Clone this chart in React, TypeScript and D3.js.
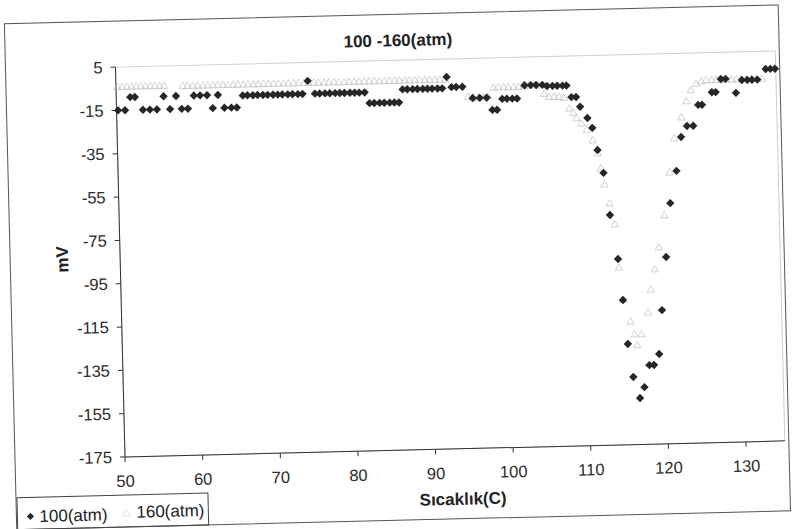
import React from "react";
import * as d3 from "d3";

// 100 atm run (filled diamonds)
const temp100 = [
  50.2, 51.1, 51.8, 52.4, 53.4, 54.3, 55.2, 56.1, 56.9, 57.7, 58.4, 59.2, 60.0, 60.8, 61.7, 62.4, 63.1, 63.9, 64.8, 65.5,
  66.3, 66.9, 67.6, 68.2, 68.9, 69.5, 70.2, 70.8, 71.4, 72.1, 72.7, 73.4, 74.0, 74.7,
  75.6, 76.2, 76.9, 77.5, 78.2, 78.8, 79.4, 80.1, 80.7, 81.3, 82.0,
  82.6, 83.2, 83.9, 84.5, 85.2, 85.8, 86.4,
  86.9, 87.5, 88.2, 88.8, 89.5, 90.1, 90.7, 91.4, 92.0, 92.6,
  93.2, 93.8, 94.6, 95.9, 96.8, 97.7, 98.4, 99.0, 99.7, 100.3, 101.0, 101.6,
  102.6, 103.4, 104.1, 104.9, 105.5, 106.2, 106.8, 107.5, 108.0, 108.6, 109.2,
  109.7, 110.6, 111.2, 111.8, 112.5, 113.2, 114.1, 114.6, 115.1, 115.7, 116.5, 117.1,
  117.8, 118.4, 119.1, 119.6, 120.3, 121.0, 121.9, 122.6, 123.4, 124.2, 124.9, 125.4,
  126.7, 127.2, 127.9, 128.5, 129.8, 130.6, 131.3, 131.9, 132.6, 133.7, 134.3, 134.9,
];
const mv100 = [
  -15, -15, -9, -9, -15, -15, -15, -9, -15, -9, -15, -15, -9, -9, -9, -15, -9, -15, -15, -15,
  -9.5, -9.5, -9.5, -9.5, -9.5, -9.5, -9.5, -9.5, -9.5, -9.5, -9.5, -9.5, -9.5, -3.5,
  -9.5, -9.5, -9.5, -9.5, -9.5, -9.5, -9.5, -9.5, -9.5, -9.5, -9.5,
  -14.5, -14.5, -14.5, -14.5, -14.5, -14.5, -14.5,
  -8.5, -8.5, -8.5, -8.5, -8.5, -8.5, -8.5, -8.5, -8.5, -3.3,
  -8, -8, -8, -13.3, -13.3, -13.3, -19, -19, -14, -14, -14, -14,
  -8, -8, -8, -8, -8.6, -8.6, -8.6, -8.6, -8.6, -14, -14,
  -18.5, -23.8, -28.4, -38.7, -49.3, -68.8, -89.2, -108.2, -128.5, -143.8, -153.6, -148.6,
  -138.5, -138.5, -133.5, -113.3, -88.8, -64, -49.2, -33.6, -28.6, -28.6, -19, -19,
  -13.3, -13.3, -7.3, -7.3, -13.9, -8, -8, -8, -8, -3.2, -3.2, -3.2,
];

// 160 atm run (open triangles)
const temp160 = [
  50.2, 50.8, 51.4, 52.0, 52.6, 53.2, 53.8, 54.4, 55.0, 55.6, 56.2,
  58.6, 59.2, 59.9, 60.5, 61.2, 61.8, 62.5, 63.1, 63.8, 64.4, 65.1, 65.7, 66.4, 67.0, 67.7, 68.3, 69.0, 69.6,
  70.3, 70.9, 71.6, 72.2, 72.9, 73.5, 74.2, 74.8, 75.5, 76.1, 76.8, 77.4, 78.1, 78.7, 79.4, 80.0, 80.7, 81.3,
  82.0, 82.6, 83.3, 83.9, 84.6, 85.2, 85.9, 86.5, 87.2, 87.8, 88.5, 89.1, 89.8, 90.4, 91.1, 91.7, 92.4,
  95.3, 95.9, 96.6, 97.3, 97.9,
  98.6, 99.2, 99.9, 100.5, 101.2, 101.8, 102.5, 103.1, 103.8, 104.4,
  105.1, 105.7, 106.4, 107.0, 107.6,
  108.3, 108.8, 109.2, 109.8, 110.5, 111.2, 111.8, 112.2, 112.6, 113.2, 113.8, 114.2, 114.7,
  115.5, 116.0, 116.3, 116.9, 117.8, 118.2, 118.8, 119.4, 120.2, 121.0, 121.7, 122.7, 123.4, 124.0, 124.7,
  125.4, 126.0, 126.7, 127.3, 128.0, 128.6, 129.3, 129.9, 130.6, 131.2, 131.9, 132.5, 133.2,
];
const mv160 = [
  -4, -4, -4, -4, -4, -4, -4, -4, -4, -4, -4,
  -4.3, -4.3, -4.3, -4.3, -4.3, -4.3, -4.3, -4.3, -4.3, -4.3, -4.3, -4.3, -4.3, -4.3, -4.3, -4.3, -4.3, -4.3,
  -4.3, -4.3, -4.3, -4.3, -4.3, -4.3, -4.3, -4.3, -4.3, -4.3, -4.3, -4.3, -4.3, -4.3, -4.3, -4.3, -4.3, -4.3,
  -4.3, -4.3, -4.3, -4.3, -4.3, -4.3, -4.3, -4.3, -4.3, -4.3, -4.3, -4.3, -4.3, -4.3, -4.3, -4.3, -4.3,
  -12.5, -13, -13, -13, -12.5,
  -8.5, -8.5, -8.5, -8.5, -8.5, -8.5, -8, -8, -8, -8,
  -12, -13.5, -13.5, -13.5, -14,
  -19, -21, -23.6, -26, -29, -34, -40, -47, -54.5, -63.3, -73, -93, -108,
  -118, -124, -129, -124, -114, -103.5, -94.2, -84.1, -69.4, -49.7, -34, -24.4, -17, -12, -9,
  -8, -7.5, -7.5, -7.5, -7.5, -7.5, -7.5, -7.5, -7.5, -7.5, -7.5, -7.5, -7.5,
];

const xTicks = [50, 60, 70, 80, 90, 100, 110, 120, 130];
const yTicks = [5, -15, -35, -55, -75, -95, -115, -135, -155, -175];
const seriesNames = ["100(atm)", "160(atm)"];
const chartTitle = "100 -160(atm)";
const xTitle = "Sıcaklık(C)";
const yTitle = "mV";

const FONT = "'Liberation Sans', Arial, sans-serif";

export default function App() {
  const W = 804;
  const H = 529;
  const plot = { left: 125, right: 785, top: 67, bottom: 457 };

  const x = d3.scaleLinear().domain([50, 135]).range([plot.left, plot.right]);
  const y = d3.scaleLinear().domain([-175, 5]).range([plot.bottom, plot.top]);

  const diamondPath = (cx: number, cy: number, r: number) => {
    const p = d3.path();
    p.moveTo(cx, cy - r);
    p.lineTo(cx + r, cy);
    p.lineTo(cx, cy + r);
    p.lineTo(cx - r, cy);
    p.closePath();
    return p.toString();
  };
  const triangle = d3.symbol().type(d3.symbolTriangle).size(24);

  const pts100 = temp100.map((t, i) => [x(t), y(mv100[i])]);
  const pts160 = temp160.map((t, i) => [x(t), y(mv160[i])]);

  return (
    <svg
      width={W}
      height={H}
      style={{ position: "absolute", left: 0, top: 0, background: "#fff" }}
      fontFamily={FONT}
    >
      <rect x={0} y={0} width={W} height={H} fill="#fff" />
      <g transform={`rotate(-1.4 ${plot.left} ${plot.bottom})`}>
        {/* chart frame */}
        <rect x={15} y={21} width={774} height={506} fill="none" stroke="#555" strokeWidth={1} />

        {/* plot area */}
        <rect
          x={plot.left}
          y={plot.top}
          width={plot.right - plot.left}
          height={plot.bottom - plot.top}
          fill="none"
          stroke="#cfcfcf"
          strokeWidth={1}
        />

        {/* axes */}
        <line x1={plot.left} x2={plot.left} y1={plot.top} y2={plot.bottom} stroke="#333" />
        <line x1={plot.left} x2={plot.right} y1={plot.bottom} y2={plot.bottom} stroke="#333" />

        {yTicks.map((t) => (
          <g key={`y${t}`}>
            <line x1={plot.left - 5} x2={plot.left} y1={y(t)} y2={y(t)} stroke="#333" />
            <text
              x={plot.left - 13}
              y={y(t)}
              dy="0.35em"
              textAnchor="end"
              fontSize={16.5}
              fill="#2a2a2a"
            >
              {t}
            </text>
          </g>
        ))}

        {xTicks.map((t) => (
          <g key={`x${t}`}>
            <line x1={x(t)} x2={x(t)} y1={plot.bottom} y2={plot.bottom + 5} stroke="#333" />
            <text x={x(t)} y={plot.bottom + 24} dy="0.35em" textAnchor="middle" fontSize={16.5} fill="#2a2a2a">
              {t}
            </text>
          </g>
        ))}

        {/* 160 atm markers */}
        {pts160.map(([px, py], i) => (
          <path
            key={`t${i}`}
            d={triangle() as string}
            transform={`translate(${px},${py + 0.8})`}
            fill="none"
            stroke="#c4c4c4"
            strokeWidth={0.75}
          />
        ))}

        {/* 100 atm markers */}
        {pts100.map(([px, py], i) => (
          <path key={`d${i}`} d={diamondPath(px, py, 4.2)} fill="#262626" />
        ))}

        {/* titles */}
        <text x={408} y={47} dy="0.35em" textAnchor="middle" fontSize={17} fontWeight="bold" fill="#222">
          {chartTitle}
        </text>
        <text
          transform={`translate(67,258) rotate(-90)`}
          dy="0.35em"
          textAnchor="middle"
          fontSize={17}
          fontWeight="bold"
          fill="#222"
        >
          {yTitle}
        </text>
        <text x={462} y={507} dy="0.35em" textAnchor="middle" fontSize={17} fontWeight="bold" fill="#222">
          {xTitle}
        </text>

        {/* legend */}
        <rect x={16} y={495} width={191} height={32} fill="none" stroke="#444" strokeWidth={1} />
        <path d={diamondPath(29, 514, 3.6)} fill="#262626" />
        <text x={38} y={514} dy="0.35em" fontSize={17} fill="#222">
          {seriesNames[0]}
        </text>
        <path
          d={triangle() as string}
          transform="translate(125,514)"
          fill="none"
          stroke="#dadada"
          strokeWidth={0.75}
        />
        <text x={135} y={512} dy="0.35em" fontSize={17} fill="#222">
          {seriesNames[1]}
        </text>
      </g>
    </svg>
  );
}
